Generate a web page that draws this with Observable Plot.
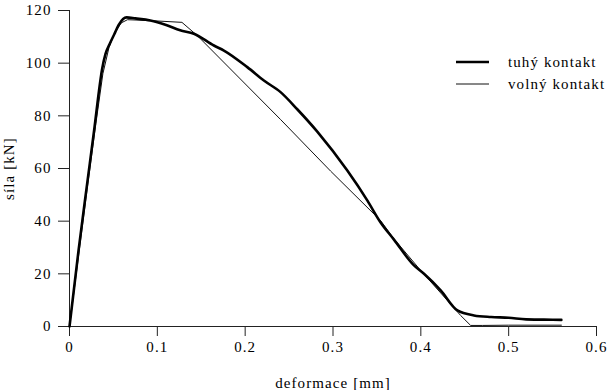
<!DOCTYPE html>
<html>
<head>
<meta charset="utf-8">
<script src="https://cdn.jsdelivr.net/npm/d3@7"></script>
<script src="https://cdn.jsdelivr.net/npm/@observablehq/plot@0.6"></script>
<style>
  html, body { margin: 0; padding: 0; background: #fff; }
  svg text { letter-spacing: 1.1px; }
</style>
</head>
<body>
<div id="chart"></div>
<script>
// Series names
const seriesNames = ["tuhý kontakt", "volný kontakt"];

// tuhý kontakt (thick)
const tuhyX = [0, 0.0103, 0.02, 0.0285, 0.033, 0.037, 0.041, 0.046, 0.051, 0.056, 0.061, 0.065, 0.075, 0.092, 0.11, 0.126, 0.1416, 0.1644, 0.1758, 0.2024, 0.2213, 0.2403, 0.2593, 0.2821, 0.3163, 0.339, 0.3542, 0.3694, 0.3922, 0.4036, 0.4226, 0.4416, 0.4605, 0.48, 0.5, 0.52, 0.54, 0.56];
const tuhyY = [0, 28.9, 54, 75.7, 88, 97.5, 103.5, 107.5, 111, 114.5, 116.8, 117.4, 117, 116.2, 114.5, 112.5, 111.2, 106.7, 104.8, 98.5, 93.4, 89.0, 82.5, 74.0, 59.2, 47.9, 39.5, 33.0, 23.2, 20.0, 13.7, 6.1, 4.2, 3.6, 3.3, 2.7, 2.6, 2.5];

// volný kontakt (thin)
const volnyX = [0, 0.01, 0.02, 0.03, 0.038, 0.045, 0.052, 0.059, 0.066, 0.09, 0.128, 0.1454, 0.2403, 0.2973, 0.354, 0.3694, 0.3998, 0.4302, 0.4453, 0.4567, 0.47, 0.5, 0.56];
const volnyY = [0, 26, 52, 77, 96, 106, 112, 115.3, 116.5, 116.2, 115.5, 110.5, 78.6, 59.0, 40.3, 33.3, 21.3, 9.9, 4.2, 0.4, 0.4, 0.5, 0.5];

// Axis ticks
const xTicks = [0, 0.1, 0.2, 0.3, 0.4, 0.5, 0.6];
const yTicks = [0, 20, 40, 60, 80, 100, 120];

const tuhy = tuhyX.map((x, i) => ({x, y: tuhyY[i]}));
const volny = volnyX.map((x, i) => ({x, y: volnyY[i]}));

const fmt = d => String(d);

const plot = Plot.plot({
  width: 612,
  height: 390,
  marginLeft: 69,
  marginRight: 16,
  marginTop: 10,
  marginBottom: 64,
  style: {fontFamily: "'Liberation Serif', 'Times New Roman', serif", fontSize: "15px", color: "#000", background: "#fff"},
  x: {domain: [0, 0.6]},
  y: {domain: [0, 120]},
  marks: [
    Plot.axisX({ticks: xTicks, tickFormat: fmt, tickSize: 10, tickPadding: 5, label: "deformace [mm]", labelAnchor: "center", labelArrow: "none", stroke: "#222", fill: "#000"}),
    Plot.axisY({ticks: yTicks, tickFormat: fmt, tickSize: 11, tickPadding: 7, label: "síla [kN]", labelAnchor: "center", labelArrow: "none", stroke: "#222", fill: "#000"}),
    Plot.ruleX([0], {stroke: "#222"}),
    Plot.ruleY([0], {stroke: "#222"}),
    Plot.line(volny, {x: "x", y: "y", stroke: "#111", strokeWidth: 1}),
    Plot.line(tuhy, {x: "x", y: "y", stroke: "#000", strokeWidth: 2.6, curve: "monotone-x"})
  ]
});

document.getElementById("chart").appendChild(plot);

// Legend inside the plot area (top right)
const svg = d3.select(plot);
const legend = svg.append("g")
  .attr("font-family", "'Liberation Serif', 'Times New Roman', serif")
  .attr("font-size", 15)
  .attr("text-anchor", "start");
const widths = [2.6, 1];
seriesNames.forEach((name, i) => {
  const yy = 62 + i * 22;
  legend.append("line").attr("x1", 456).attr("x2", 489).attr("y1", yy).attr("y2", yy)
    .attr("stroke", i === 0 ? "#000" : "#111").attr("stroke-width", widths[i]);
  legend.append("text").attr("x", 508).attr("y", yy).attr("dy", "0.32em")
    .attr("text-anchor", "start").attr("fill", "#000").text(name);
});
</script>
</body>
</html>
